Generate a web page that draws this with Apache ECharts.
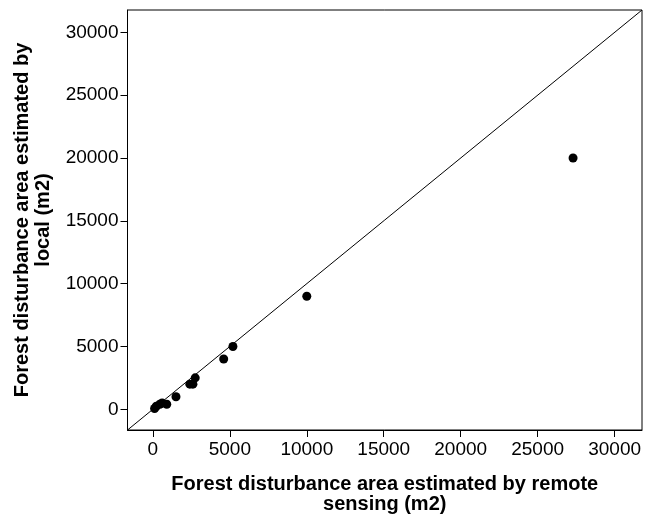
<!DOCTYPE html>
<html>
<head>
<meta charset="utf-8">
<script src="https://cdn.jsdelivr.net/npm/echarts@6/dist/echarts.min.js"></script>
<style>
html,body{margin:0;padding:0;background:#fff;}
#chart{width:646px;height:516px;}
</style>
</head>
<body>
<div id="chart"></div>
<script>
// Data
const remoteSensing = [5200, 4600, 2750, 2600, 2400, 1500, 900, 600, 450, 220, 110, 10000, 27300];
const localEstimate = [5000, 4000, 2500, 2000, 2000, 1000, 400, 500, 400, 240, 60, 9000, 20000];
const tickValues = [0, 5000, 10000, 15000, 20000, 25000, 30000];
const axisMin = -1650;
const axisMax = 31780;
const refLineX = [axisMin, axisMax];
const refLineY = [axisMin, axisMax];

const points = remoteSensing.map((x, i) => [x, localEstimate[i]]);
const refLine = refLineX.map((x, i) => [x, refLineY[i]]);

const font = '"Liberation Sans", Arial, sans-serif';
const plain = v => String(v);
const chart = echarts.init(document.getElementById('chart'), null, {renderer: 'canvas'});
chart.setOption({
  backgroundColor: '#fff',
  animation: false,
  grid: {
    left: 127.5, right: 4, top: 10, bottom: 86,
    containLabel: false, outerBoundsMode: 'none',
    show: true, borderColor: '#000', borderWidth: 1, backgroundColor: 'transparent'
  },
  xAxis: {
    type: 'value', min: axisMin, max: axisMax,
    name: 'Forest disturbance area estimated by remote\nsensing (m2)',
    nameLocation: 'middle', nameGap: 44,
    nameTextStyle: {fontFamily: font, fontSize: 20, fontWeight: 'bold', color: '#000', lineHeight: 20},
    axisLine: {show: true, onZero: false, lineStyle: {color: '#000', width: 1}},
    axisTick: {show: true, inside: false, length: 7, customValues: tickValues, lineStyle: {color: '#000'}},
    axisLabel: {customValues: tickValues, formatter: plain, fontFamily: font, fontSize: 19, color: '#000', margin: 10},
    splitLine: {show: false}
  },
  yAxis: {
    type: 'value', min: axisMin, max: axisMax,
    name: 'Forest disturbance area estimated by\nlocal (m2)',
    nameLocation: 'middle', nameGap: 74,
    nameTextStyle: {fontFamily: font, fontSize: 20, fontWeight: 'bold', color: '#000', lineHeight: 21},
    axisLine: {show: true, onZero: false, lineStyle: {color: '#000', width: 1}},
    axisTick: {show: true, inside: false, length: 7, customValues: tickValues, lineStyle: {color: '#000'}},
    axisLabel: {customValues: tickValues, formatter: plain, fontFamily: font, fontSize: 19, color: '#000', margin: 9},
    splitLine: {show: false}
  },
  series: [
    {
      type: 'line', data: refLine, symbol: 'none', silent: true,
      lineStyle: {color: '#000', width: 1}
    },
    {
      type: 'scatter', data: points, symbol: 'circle', symbolSize: 9,
      itemStyle: {color: '#000', opacity: 1}
    }
  ]
});
</script>
</body>
</html>
